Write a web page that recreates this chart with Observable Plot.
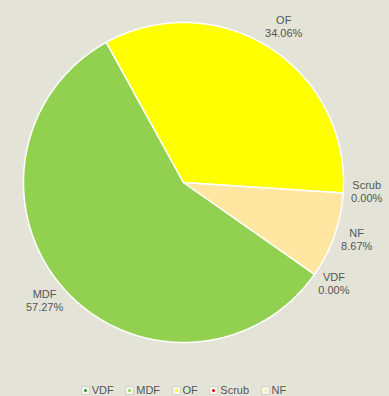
<!DOCTYPE html>
<html>
<head>
<meta charset="utf-8">
<script src="https://cdn.jsdelivr.net/npm/d3@7"></script>
<script src="https://cdn.jsdelivr.net/npm/@observablehq/plot@0.6"></script>
<style>
  html, body { margin: 0; padding: 0; background: #e3e4d7; }
  body { width: 389px; height: 396px; overflow: hidden; font-family: "Liberation Sans", Arial, sans-serif; }
  #legend { display: flex; justify-content: center; gap: 11.5px; font-size: 11px; color: #555; margin-top: 15px; padding-right: 22px; line-height: 11px; }
  .item { display: flex; align-items: center; gap: 2px; }
  .sw { width: 7px; height: 7px; background: #f4f4ee; border: 1px solid #d4d4cc; display: flex; align-items: center; justify-content: center; }
  .dot { width: 3px; height: 3px; border-radius: 50%; }
</style>
</head>
<body>
<div id="chart"></div>
<div id="legend"></div>
<script>
const categories = ["VDF", "MDF", "OF", "Scrub", "NF"];
const percents = [0.00, 57.27, 34.06, 0.00, 8.67];
const colors = ["#2f8f2f", "#92d050", "#ffff00", "#ff0000", "#ffe6a1"];

const W = 389, H = 370, R = 160, CX = 183, CY = 182;
const FS = 11, LH = 1.2;
const start = 125 * Math.PI / 180;
const arcs = d3.pie().sort(null).startAngle(start).endAngle(start + 2 * Math.PI)(percents);

const polys = [];
arcs.forEach((a, i) => {
  if (a.endAngle - a.startAngle <= 0) return;
  const n = Math.max(2, Math.ceil((a.endAngle - a.startAngle) / (Math.PI / 360)));
  polys.push({cat: categories[i], x: 0, y: 0});
  for (let k = 0; k <= n; k++) {
    const t = a.startAngle + (a.endAngle - a.startAngle) * k / n;
    polys.push({cat: categories[i], x: Math.sin(t), y: Math.cos(t)});
  }
});

// label box placed just outside the pie, offset by its own half-size along the direction
const ctx = document.createElement("canvas").getContext("2d");
ctx.font = FS + "px 'Liberation Sans'";
const gap = 8, boxH = 2 * FS * LH;
const labels = arcs.map((a, i) => {
  const m = (a.startAngle + a.endAngle) / 2;
  const pct = percents[i].toFixed(2) + "%";
  const bw = Math.max(ctx.measureText(categories[i]).width, ctx.measureText(pct).width);
  const dx = Math.sin(m), dy = Math.cos(m);
  const px = (R + gap) * dx + dx * bw / 2;
  const py = (R + gap) * dy + dy * boxH / 2;
  return {x: px / R, y: py / R, text: categories[i] + "\n" + pct};
});

const chart = Plot.plot({
  width: W, height: H,
  margin: 0,
  style: {background: "transparent"},
  x: {domain: [-CX / R, (W - CX) / R], axis: null},
  y: {domain: [-(H - CY) / R, CY / R], axis: null},
  color: {domain: categories, range: colors},
  marks: [
    Plot.line(polys, {x: "x", y: "y", z: "cat", fill: "cat", stroke: "white", strokeWidth: 1.5, curve: "linear-closed"}),
    Plot.text(labels, {x: "x", y: "y", text: "text", dy: -3, fontSize: FS, fill: "#555", lineHeight: LH, fontFamily: "Liberation Sans, Arial, sans-serif"})
  ]
});
document.getElementById("chart").appendChild(chart);

const lg = document.getElementById("legend");
categories.forEach((c, i) => {
  const it = document.createElement("div"); it.className = "item";
  const sw = document.createElement("div"); sw.className = "sw";
  const dot = document.createElement("div"); dot.className = "dot"; dot.style.background = colors[i];
  sw.appendChild(dot); it.appendChild(sw);
  const t = document.createElement("span"); t.textContent = c; it.appendChild(t);
  lg.appendChild(it);
});
</script>
</body>
</html>
